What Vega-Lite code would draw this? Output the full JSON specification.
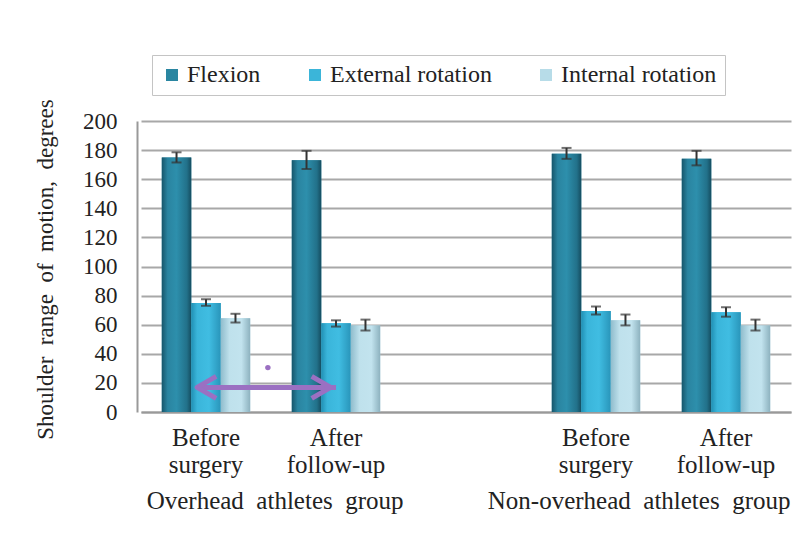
{
  "$schema": "https://vega.github.io/schema/vega-lite/v6.json",
  "autosize": {"type": "none"},
  "padding": {"left": 137, "top": 121, "right": 14, "bottom": 123},
  "width": 654,
  "height": 291,
  "background": "white",
  "config": {
    "view": {"stroke": null},
    "font": "Liberation Serif",
    "axis": {"labelFont": "Liberation Serif", "titleFont": "Liberation Serif", "labelColor": "#222", "titleColor": "#222"},
    "legend": {
      "orient": "none", "legendX": 15, "legendY": -66, "direction": "horizontal",
      "strokeColor": "#c4c4c4", "padding": 8, "columnPadding": 42, "labelLimit": 300,
      "symbolType": "square", "symbolSize": 144, "symbolStrokeWidth": 0,
      "labelFont": "Liberation Serif", "labelFontSize": 24, "labelColor": "#222", "labelOffset": 3
    }
  },
  "datasets": {
    "bars": [
      {"cat": "OB", "type": "Flexion", "value": 175, "lo": 171.5, "hi": 178.5},
      {"cat": "OB", "type": "External rotation", "value": 75, "lo": 73, "hi": 77.5},
      {"cat": "OB", "type": "Internal rotation", "value": 64.5, "lo": 61.5, "hi": 67.5},
      {"cat": "OA", "type": "Flexion", "value": 173, "lo": 167, "hi": 179.5},
      {"cat": "OA", "type": "External rotation", "value": 61, "lo": 58.7, "hi": 63},
      {"cat": "OA", "type": "Internal rotation", "value": 59.5, "lo": 56, "hi": 63.5},
      {"cat": "NB", "type": "Flexion", "value": 177.5, "lo": 174, "hi": 181.5},
      {"cat": "NB", "type": "External rotation", "value": 69.5, "lo": 67, "hi": 72.5},
      {"cat": "NB", "type": "Internal rotation", "value": 63, "lo": 59.5, "hi": 67},
      {"cat": "NA", "type": "Flexion", "value": 174, "lo": 169.5, "hi": 179.5},
      {"cat": "NA", "type": "External rotation", "value": 68.5, "lo": 65.5, "hi": 72},
      {"cat": "NA", "type": "Internal rotation", "value": 59.5, "lo": 56, "hi": 63.5}
    ],
    "arrow": [{"from": "OB", "to": "OA", "y": 16.9}],
    "star": [{"cat": "OB", "y": 30.5}],
    "g1": [{"cat": "OB", "y": -67, "label": "Overhead\u00a0 athletes\u00a0 group"}],
    "g2": [{"cat": "NB", "y": -67, "label": "Non-overhead\u00a0 athletes\u00a0 group"}]
  },
  "encoding": {
    "x": {
      "field": "cat", "type": "nominal",
      "scale": {"domain": ["OB", "OA", "GAP", "NB", "NA"], "range": [4, 654], "paddingInner": 0.32, "paddingOuter": 0.16},
      "axis": {
        "title": null, "ticks": false, "labelAngle": 0, "labelFontSize": 25, "labelPadding": 13,
        "labelLineHeight": 27, "domainColor": "#999", "domainWidth": 2,
        "labelExpr": "datum.value == 'OB' || datum.value == 'NB' ? ['Before', 'surgery'] : (datum.value == 'OA' || datum.value == 'NA' ? ['After', 'follow-up'] : '')"
      }
    },
    "y": {
      "field": "value", "type": "quantitative",
      "scale": {"domain": [0, 200], "nice": false},
      "axis": {
        "values": [0, 20, 40, 60, 80, 100, 120, 140, 160, 180, 200],
        "labelOverlap": false, "grid": true,
        "title": "Shoulder\u00a0 range\u00a0 of\u00a0 motion,\u00a0 degrees",
        "titleFontSize": 23, "titleFontWeight": "normal", "titleX": -92, "titleY": 148,
        "titleAngle": -90, "titleAlign": "center", "titleBaseline": "middle",
        "labelFontSize": 23, "labelPadding": 20, "ticks": false,
        "gridColor": "#a8a8a8", "gridWidth": 2, "domainColor": "#999", "domainWidth": 2
      }
    }
  },
  "layer": [
    {
      "data": {"name": "bars"},
      "mark": {"type": "bar"},
      "encoding": {
        "xOffset": {"field": "type", "type": "nominal", "scale": {"domain": ["Flexion", "External rotation", "Internal rotation"], "paddingInner": 0, "paddingOuter": 0}},
        "color": {
          "field": "type", "type": "nominal",
          "scale": {"domain": ["Flexion", "External rotation", "Internal rotation"], "range": ["#2a86a1", "#3bb5d9", "#b7dce8"]},
          "legend": {"title": null}
        }
      }
    },
    {
      "data": {"name": "bars"},
      "transform": [{"filter": "datum.type == 'Flexion'"}],
      "mark": {"type": "bar", "fill": {"gradient": "linear", "x1": 0, "x2": 1, "y1": 0, "y2": 0, "stops": [
        {"offset": 0, "color": "#17566b"}, {"offset": 0.2, "color": "#2a84a0"}, {"offset": 0.5, "color": "#2d8fac"}, {"offset": 0.85, "color": "#22718a"}, {"offset": 1, "color": "#154d60"}]}},
      "encoding": {
        "xOffset": {"field": "type", "type": "nominal"}
      }
    },
    {
      "data": {"name": "bars"},
      "transform": [{"filter": "datum.type == 'External rotation'"}],
      "mark": {"type": "bar", "fill": {"gradient": "linear", "x1": 0, "x2": 1, "y1": 0, "y2": 0, "stops": [
        {"offset": 0, "color": "#2090b4"}, {"offset": 0.2, "color": "#3ab5da"}, {"offset": 0.6, "color": "#40bde2"}, {"offset": 1, "color": "#2995ba"}]}},
      "encoding": {
        "xOffset": {"field": "type", "type": "nominal"}
      }
    },
    {
      "data": {"name": "bars"},
      "transform": [{"filter": "datum.type == 'Internal rotation'"}],
      "mark": {"type": "bar", "fill": {"gradient": "linear", "x1": 0, "x2": 1, "y1": 0, "y2": 0, "stops": [
        {"offset": 0, "color": "#8fbccc"}, {"offset": 0.3, "color": "#bfe1ec"}, {"offset": 0.7, "color": "#c2e3ee"}, {"offset": 1, "color": "#8db2bf"}]}},
      "encoding": {
        "xOffset": {"field": "type", "type": "nominal"}
      }
    },
    {
      "data": {"name": "bars"},
      "mark": {"type": "rule", "color": "#333", "strokeWidth": 2},
      "encoding": {
        "xOffset": {"field": "type", "type": "nominal"},
        "y": {"field": "lo", "type": "quantitative"},
        "y2": {"field": "hi"}
      }
    },
    {
      "data": {"name": "bars"},
      "mark": {"type": "tick", "color": "#333", "thickness": 2, "size": 10},
      "encoding": {
        "xOffset": {"field": "type", "type": "nominal"},
        "y": {"field": "lo", "type": "quantitative"}
      }
    },
    {
      "data": {"name": "bars"},
      "mark": {"type": "tick", "color": "#333", "thickness": 2, "size": 10},
      "encoding": {
        "xOffset": {"field": "type", "type": "nominal"},
        "y": {"field": "hi", "type": "quantitative"}
      }
    },
    {
      "data": {"name": "arrow"},
      "mark": {"type": "rule", "color": "#9b70c2", "strokeWidth": 5},
      "encoding": {
        "x": {"field": "from", "type": "nominal", "bandPosition": 0.42},
        "x2": {"field": "to"},
        "y": {"field": "y", "type": "quantitative"}
      }
    },
    {
      "data": {"name": "arrow"},
      "mark": {"type": "point", "shape": "M1.9,-1.1L0,0L1.9,1.1", "filled": false, "stroke": "#9b70c2", "strokeWidth": 5, "size": 400, "opacity": 1, "strokeJoin": "round"},
      "encoding": {
        "x": {"field": "from", "type": "nominal", "bandPosition": 0.4},
        "y": {"field": "y", "type": "quantitative"}
      }
    },
    {
      "data": {"name": "arrow"},
      "mark": {"type": "point", "shape": "M-1.9,-1.1L0,0L-1.9,1.1", "filled": false, "stroke": "#9b70c2", "strokeWidth": 5, "size": 400, "opacity": 1, "strokeJoin": "round"},
      "encoding": {
        "x": {"field": "to", "type": "nominal", "bandPosition": 0.44},
        "y": {"field": "y", "type": "quantitative"}
      }
    },
    {
      "data": {"name": "star"},
      "mark": {"type": "circle", "color": "#9b70c2", "size": 30, "opacity": 1},
      "encoding": {
        "x": {"field": "cat", "type": "nominal", "bandPosition": 1.2},
        "y": {"field": "y", "type": "quantitative"}
      }
    },
    {
      "data": {"name": "g1"},
      "mark": {"type": "text", "font": "Liberation Serif", "fontSize": 25, "color": "#222", "align": "center", "baseline": "alphabetic"},
      "encoding": {
        "x": {"field": "cat", "type": "nominal", "bandPosition": 1.282},
        "y": {"field": "y", "type": "quantitative"},
        "text": {"field": "label"}
      }
    },
    {
      "data": {"name": "g2"},
      "mark": {"type": "text", "font": "Liberation Serif", "fontSize": 25, "color": "#222", "align": "center", "baseline": "alphabetic"},
      "encoding": {
        "x": {"field": "cat", "type": "nominal", "bandPosition": 0.988},
        "y": {"field": "y", "type": "quantitative"},
        "text": {"field": "label"}
      }
    }
  ]
}
